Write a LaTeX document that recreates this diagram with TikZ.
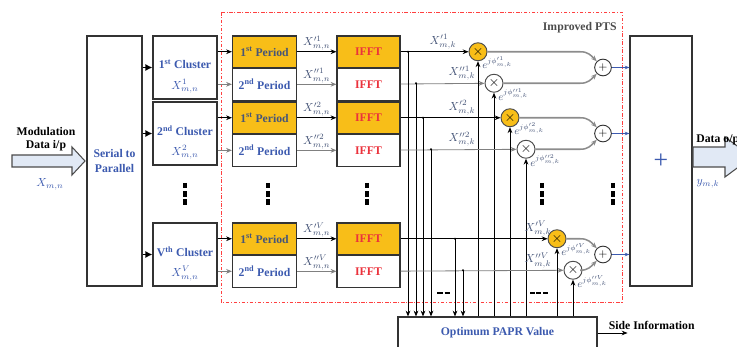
\documentclass[tikz,border=0pt]{standalone}
\usepackage{fontspec}
\setmainfont{Liberation Serif}
\usetikzlibrary{positioning, calc, arrows.meta}

\definecolor{ptsorange}{RGB}{248,190,24}
\definecolor{ptsblue}{RGB}{60,90,175}
\definecolor{ptsred}{RGB}{235,50,60}
\definecolor{ptsslate}{RGB}{70,85,120}
\definecolor{arrowfill}{RGB}{225,233,245}

\tikzset{
  blk/.style={draw=black!80, line width=0.9pt, inner sep=0pt, fill=white},
  clusterbox/.style={blk, minimum width=1.92cm, minimum height=1.89cm},
  periodbox/.style={blk, minimum width=1.92cm, minimum height=0.945cm, font=\bfseries\normalsize},
  ifftbox/.style={blk, minimum width=1.89cm, minimum height=0.945cm, font=\bfseries\normalsize, text=ptsred},
  mult/.style={circle, draw=black!70, line width=0.8pt, minimum size=0.54cm, inner sep=0pt, font=\large},
  adder/.style={circle, draw=black!80, line width=0.8pt, minimum size=0.5cm, inner sep=0pt, fill=white},
  txt/.style={font=\bfseries\normalsize, inner sep=1pt},
  lbl/.style={font=\normalsize, text=ptsslate, inner sep=1pt},
  elbl/.style={font=\small, text=ptsslate, inner sep=1pt},
  arr/.style={-{Stealth[length=5pt,width=4pt]}, line width=0.7pt},
  grayarr/.style={arr, draw=black!50},
  fatarr/.style={-{Latex[length=6pt,width=6pt]}, line width=1.4pt},
  sumline/.style={-{Stealth[length=5pt,width=4pt]}, draw=black!45, line width=1.3pt},
  bluearr/.style={-{Stealth[length=4pt,width=3pt]}, draw=ptsblue, line width=0.8pt},
  vdots/.style={line width=3pt, dash pattern=on 4.6pt off 2.4pt},
  ptsframe/.style={draw=red!75, line width=0.8pt, dash pattern=on 3pt off 1.5pt on 0.8pt off 1.5pt},
  bigarrow/.style={draw=black!70, line width=0.9pt, fill=arrowfill}
}

\begin{document}
\begin{tikzpicture}[x=0.03cm, y=-0.03cm]
  \useasboundingbox (0,0) rectangle (737,347);

  % input arrow
  \draw[bigarrow] (12,155) -- (72,155) -- (72,147) -- (85,161) -- (72,175) -- (72,167) -- (12,167) -- cycle;
  \node[txt] (modlbl) at (46,132) {Modulation};
  \node[txt] (datain) at (46,146) {Data i/p};
  \node[lbl, text=ptsblue] (xin) at (50,184) {$X_{m,n}$};

  % serial to parallel
  \node[blk, minimum width=1.65cm, minimum height=7.5cm, align=center, text=ptsblue, font=\bfseries\normalsize] (sp) at (114.5,161) {Serial to\\Parallel};

  % improved PTS frame
  \draw[ptsframe] (221,12) rectangle (622,302);
  \node[txt, text=black!70, anchor=east] (ptslbl) at (618,28) {Improved PTS};

  % optimum PAPR block
  \node[blk, minimum width=5.97cm, minimum height=0.96cm, text=ptsblue, font=\bfseries\normalsize] (papr) at (497.5,333) {Optimum PAPR Value};

  % combiner
  \node[blk, minimum width=1.86cm, minimum height=7.5cm, text=ptsblue, font=\fontsize{22}{22}\selectfont] (comb) at (661,161) {+};

  % one group per cluster
  \foreach \n/\y/\ord/\ma/\mb/\ta/\tb/\la/\lb in {1/67.5/st/478/494/408/416/443/462, 2/133.5/nd/510/526/423/431/462/462, V/254.5/th/557/573/455/463/538/538}{
    \node[clusterbox] (c\n) at (185,\y) {};
    \node[txt, text=ptsblue] (cname\n) at (185,\y-3) {\n\textsuperscript{\ord} Cluster};
    \node[lbl, text=ptsblue] (cx\n) at (185,\y+19) {$X^{\n}_{m,n}$};
    \node[periodbox, fill=ptsorange, text=ptsslate] (pa\n) at (264.5,\y-15.75) {1\textsuperscript{st} Period};
    \node[periodbox, below=0pt of pa\n, text=ptsblue] (pb\n) {2\textsuperscript{nd} Period};
    \node[ifftbox, fill=ptsorange] (ia\n) at (368.5,\y-15.75) {IFFT};
    \node[ifftbox, below=0pt of ia\n] (ib\n) {IFFT};
    \node[mult, fill=ptsorange] (ma\n) at (\ma,\y-15.75) {$\times$};
    \node[mult, fill=white] (mb\n) at (\mb,\y+15.75) {$\times$};
    \node[adder] (s\n) at (603,\y) {$+$};

    \draw[fatarr] (c\n.west -| sp.east) -- (c\n.west);
    \draw[arr] (pa\n.west -| c\n.east) -- (pa\n.west);
    \draw[grayarr] (pb\n.west -| c\n.east) -- (pb\n.west);
    \draw[arr] (pa\n) -- node[lbl, above] (xpa\n) {$X^{\prime\n}_{m,n}$} (ia\n);
    \draw[grayarr] (pb\n) -- node[lbl, above] (xpb\n) {$X^{\prime\prime\n}_{m,n}$} (ib\n);
    \draw[arr] (ia\n) -- (ma\n);
    \draw[grayarr] (ib\n) -- (mb\n);

    % taps to the PAPR block
    \coordinate (ta\n) at (\ta,\y-15.75);
    \coordinate (tb\n) at (\tb,\y+15.75);
    \fill (ta\n) circle (1pt);
    \fill (tb\n) circle (1pt);
    \draw[arr] (ta\n) -- (ta\n |- papr.north);
    \draw[arr] (tb\n) -- (tb\n |- papr.north);

    % phase factors
    \draw[arr] (ma\n |- papr.north) -- (ma\n);
    \draw[arr] (mb\n |- papr.north) -- (mb\n);
    \node[lbl, anchor=south] (xka\n) at (\la,\y-17) {$X^{\prime\n}_{m,k}$};
    \node[lbl, anchor=south] (xkb\n) at (\lb,\y+14.5) {$X^{\prime\prime\n}_{m,k}$};
    \node[elbl, anchor=west] (ea\n) at ($(ma\n)+(3,11)$) {$e^{j\phi^{\prime\n}_{m,k}}$};
    \node[elbl, anchor=west] (eb\n) at ($(mb\n)+(3,11)$) {$e^{j\phi^{\prime\prime\n}_{m,k}}$};

    % partial sums
    \draw[sumline] (ma\n) -- ($(ma\n -| s\n.west)+(-14,0)$) .. controls +(8,0) and +(-6,-6) .. (s\n.north west);
    \draw[sumline] (mb\n) -- ($(mb\n -| s\n.west)+(-14,0)$) .. controls +(8,0) and +(-6,6) .. (s\n.south west);
    \draw[bluearr] (s\n) -- (s\n -| comb.west);
  }

  % dots between groups
  \foreach \x in {185,268,367,542,613}{
    \draw[vdots] (\x,183) -- (\x,205);
  }
  \draw[line width=2.5pt, dash pattern=on 5pt off 1.5pt] (437,293) -- (450,293);
  \draw[line width=2.5pt, dash pattern=on 4.3pt off 1.2pt] (530,293) -- (548,293);

  % output arrow
  \draw[bigarrow] (693,147) -- (725,147) -- (725,137) -- (752,157) -- (725,177) -- (725,167) -- (693,167) -- cycle;
  \node[txt, anchor=west] (dataout) at (695,140) {Data o/p};
  \node[lbl, text=ptsblue] (yout) at (708,184) {$y_{m,k}$};

  % side information
  \coordinate (sideend) at ($(papr.east)+(30,0)$);
  \draw[arr] (papr.east) -- (sideend);
  \node[txt, anchor=south west] (sidelbl) at ($(papr.east)+(10,-2)$) {Side Information};
\end{tikzpicture}
\end{document}
